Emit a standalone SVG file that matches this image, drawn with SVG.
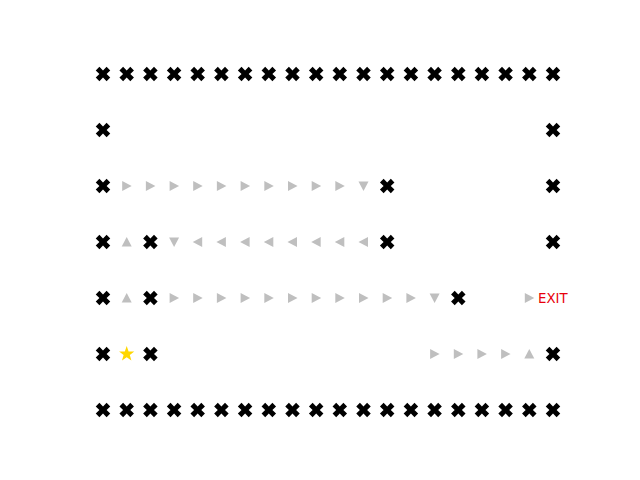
<svg xmlns="http://www.w3.org/2000/svg" xmlns:xlink="http://www.w3.org/1999/xlink" width="640" height="480" viewBox="0 0 640 480">
<style>
.wall{fill:#000}
.arr{fill:#bfbfbf}
.star{fill:#ffd700}
.exit{fill:#e8000b;font-family:"DejaVu Sans",sans-serif;font-size:13.3px}
</style>
<defs>
<polygon id="X" class="wall" points="-3.6,-7.25 0,-3.6 3.6,-7.25 7.25,-3.6 3.6,0 7.25,3.6 3.6,7.25 0,3.6 -3.6,7.25 -7.25,3.6 -3.6,0 -7.25,-3.6"/>
<polygon id="R" class="arr" points="5,0 -4.5,5 -4.5,-5"/>
<polygon id="L" class="arr" points="-5,0 4.5,5 4.5,-5"/>
<polygon id="U" class="arr" points="0,-5 5,4.5 -5,4.5"/>
<polygon id="D" class="arr" points="0,5 5,-4.5 -5,-4.5"/>
</defs>
<rect width="640" height="480" fill="#fff"/>
<g id="walls">
<!-- top row -->
<use href="#X" x="103" y="74"/><use href="#X" x="126.7" y="74"/><use href="#X" x="150.4" y="74"/><use href="#X" x="174.1" y="74"/><use href="#X" x="197.7" y="74"/><use href="#X" x="221.4" y="74"/><use href="#X" x="245.1" y="74"/><use href="#X" x="268.8" y="74"/><use href="#X" x="292.5" y="74"/><use href="#X" x="316.2" y="74"/><use href="#X" x="339.8" y="74"/><use href="#X" x="363.5" y="74"/><use href="#X" x="387.2" y="74"/><use href="#X" x="410.9" y="74"/><use href="#X" x="434.6" y="74"/><use href="#X" x="458.3" y="74"/><use href="#X" x="481.9" y="74"/><use href="#X" x="505.6" y="74"/><use href="#X" x="529.3" y="74"/><use href="#X" x="553" y="74"/>
<!-- bottom row -->
<use href="#X" x="103" y="410"/><use href="#X" x="126.7" y="410"/><use href="#X" x="150.4" y="410"/><use href="#X" x="174.1" y="410"/><use href="#X" x="197.7" y="410"/><use href="#X" x="221.4" y="410"/><use href="#X" x="245.1" y="410"/><use href="#X" x="268.8" y="410"/><use href="#X" x="292.5" y="410"/><use href="#X" x="316.2" y="410"/><use href="#X" x="339.8" y="410"/><use href="#X" x="363.5" y="410"/><use href="#X" x="387.2" y="410"/><use href="#X" x="410.9" y="410"/><use href="#X" x="434.6" y="410"/><use href="#X" x="458.3" y="410"/><use href="#X" x="481.9" y="410"/><use href="#X" x="505.6" y="410"/><use href="#X" x="529.3" y="410"/><use href="#X" x="553" y="410"/>
<!-- left column -->
<use href="#X" x="103" y="130"/><use href="#X" x="103" y="186"/><use href="#X" x="103" y="242"/><use href="#X" x="103" y="298"/><use href="#X" x="103" y="354"/>
<!-- right column -->
<use href="#X" x="553" y="130"/><use href="#X" x="553" y="186"/><use href="#X" x="553" y="242"/><use href="#X" x="553" y="354"/>
<!-- inner walls -->
<use href="#X" x="387.2" y="186"/><use href="#X" x="387.2" y="242"/>
<use href="#X" x="150.4" y="242"/><use href="#X" x="150.4" y="298"/><use href="#X" x="150.4" y="354"/>
<use href="#X" x="458.3" y="298"/>
</g>
<g id="path">
<!-- row y=186 -->
<use href="#R" x="126.7" y="186"/><use href="#R" x="150.4" y="186"/><use href="#R" x="174.1" y="186"/><use href="#R" x="197.7" y="186"/><use href="#R" x="221.4" y="186"/><use href="#R" x="245.1" y="186"/><use href="#R" x="268.8" y="186"/><use href="#R" x="292.5" y="186"/><use href="#R" x="316.2" y="186"/><use href="#R" x="339.8" y="186"/><use href="#D" x="363.5" y="186"/>
<!-- row y=242 -->
<use href="#U" x="126.7" y="242"/><use href="#D" x="174.1" y="242"/><use href="#L" x="197.7" y="242"/><use href="#L" x="221.4" y="242"/><use href="#L" x="245.1" y="242"/><use href="#L" x="268.8" y="242"/><use href="#L" x="292.5" y="242"/><use href="#L" x="316.2" y="242"/><use href="#L" x="339.8" y="242"/><use href="#L" x="363.5" y="242"/>
<!-- row y=298 -->
<use href="#U" x="126.7" y="298"/><use href="#R" x="174.1" y="298"/><use href="#R" x="197.7" y="298"/><use href="#R" x="221.4" y="298"/><use href="#R" x="245.1" y="298"/><use href="#R" x="268.8" y="298"/><use href="#R" x="292.5" y="298"/><use href="#R" x="316.2" y="298"/><use href="#R" x="339.8" y="298"/><use href="#R" x="363.5" y="298"/><use href="#R" x="387.2" y="298"/><use href="#R" x="410.9" y="298"/><use href="#D" x="434.6" y="298"/><use href="#R" x="529.3" y="298"/>
<!-- row y=354 -->
<use href="#R" x="434.6" y="354"/><use href="#R" x="458.3" y="354"/><use href="#R" x="481.9" y="354"/><use href="#R" x="505.6" y="354"/><use href="#U" x="529.3" y="354"/>
</g>
<g id="start">
<polygon class="star" transform="translate(126.7,354)" points="0,-8 1.9,-2.6 7.6,-2.5 3.1,1 4.7,6.5 0,3.2 -4.7,6.5 -3.1,1 -7.6,-2.5 -1.9,-2.6"/>
</g>
<g id="exit">
<text class="exit" x="538" y="302.5">EXIT</text>
</g>
</svg>
